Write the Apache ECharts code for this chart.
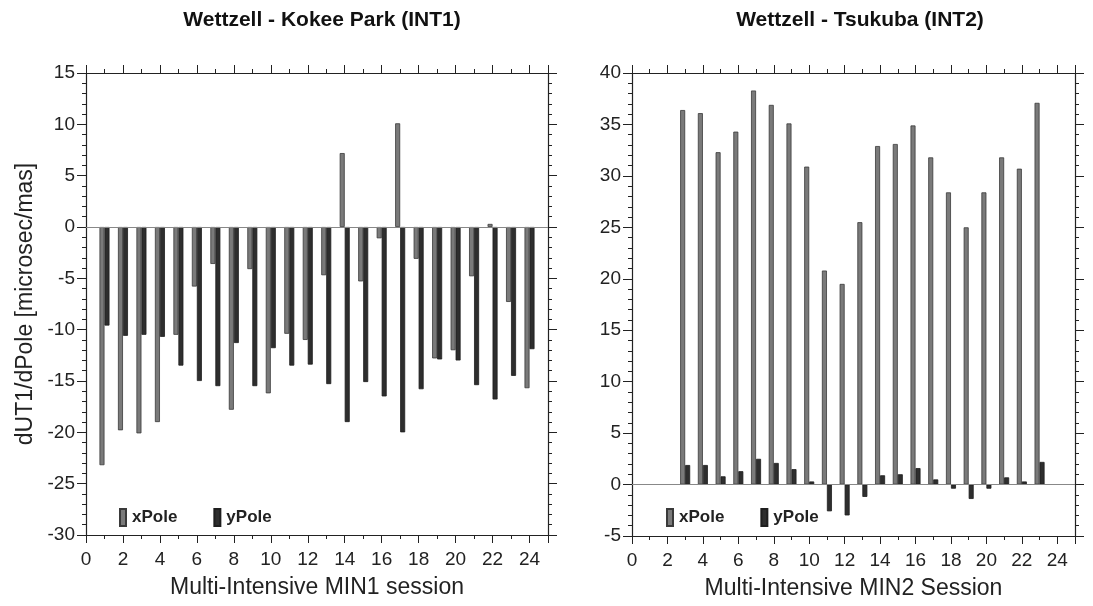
<!DOCTYPE html>
<html>
<head>
<meta charset="utf-8">
<script src="https://cdn.jsdelivr.net/npm/echarts@6/dist/echarts.min.js"></script>
<style>
html,body{margin:0;padding:0;background:#fff;}
#main{width:1093px;height:606px;}
</style>
</head>
<body>
<div id="main"></div>
<script>
// INT1 Wettzell - Kokee Park
var sessions1 = [1,2,3,4,5,6,7,8,9,10,11,12,13,14,15,16,17,18,19,20,21,22,23,24];
var xPole1 = [-23.2,-19.8,-20.1,-19.0,-10.5,-5.8,-3.6,-17.8,-4.1,-16.2,-10.4,-11.0,-4.7,7.2,-5.3,-1.1,10.1,-3.1,-12.8,-12.0,-4.8,0.3,-7.3,-15.7];
var yPole1 = [-9.6,-10.6,-10.5,-10.7,-13.5,-15.0,-15.5,-11.3,-15.5,-11.8,-13.5,-13.4,-15.3,-19.0,-15.1,-16.5,-20.0,-15.8,-12.9,-13.0,-15.4,-16.8,-14.5,-11.9];
// INT2 Wettzell - Tsukuba
var sessions2 = [3,4,5,6,7,8,9,10,11,12,13,14,15,16,17,18,19,20,21,22,23];
var xPole2 = [36.4,36.1,32.3,34.3,38.3,36.9,35.1,30.9,20.8,19.5,25.5,32.9,33.1,34.9,31.8,28.4,25.0,28.4,31.8,30.7,37.1];
var yPole2 = [1.9,1.9,0.8,1.3,2.5,2.1,1.5,0.3,-2.6,-3.0,-1.2,0.9,1.0,1.6,0.5,-0.4,-1.4,-0.4,0.7,0.3,2.2];
var xTicks = {min:0, max:25, interval:2};
var yRange1 = {min:-30, max:15, interval:5};
var yRange2 = {min:-5, max:40, interval:5};

var font = 'Liberation Sans, Arial, Helvetica, sans-serif';
var lineCol = '#222';
var lightCol = '#7a7a7a', darkCol = '#2e2e2e';

function pairs(xs, ys){
    var out = [];
    for (var i = 0; i < xs.length; i++) out.push([xs[i], ys[i]]);
    return out;
}

function xAx(grid, pos, name){
    return {
        type:'value', gridIndex:grid, position:pos,
        min:xTicks.min, max:xTicks.max, interval:xTicks.interval,
        name:name||'', nameLocation:'middle', nameGap:41,
        nameTextStyle:{fontFamily:font, fontSize:23, color:'#222'},
        axisLine:{show:true, onZero:false, lineStyle:{color:lineCol, width:1.2}},
        axisTick:{show:true, length:8, lineStyle:{color:lineCol}},
        minorTick:{show:true, splitNumber:2, length:4, lineStyle:{color:lineCol}},
        axisLabel:{show:pos==='bottom', margin:15, fontFamily:font, fontSize:19, color:'#222',
            formatter:function(v){ return v > 24 ? '' : v; }},
        splitLine:{show:false}
    };
}
function yAx(grid, pos, r, name){
    return {
        type:'value', gridIndex:grid, position:pos,
        min:r.min, max:r.max, interval:r.interval,
        name:name||'', nameLocation:'middle', nameGap:49, nameRotate:90,
        nameTextStyle:{fontFamily:font, fontSize:23, color:'#222'},
        axisLine:{show:true, onZero:false, lineStyle:{color:lineCol, width:1.2}},
        axisTick:{show:true, length:9, lineStyle:{color:lineCol}},
        minorTick:{show:true, splitNumber:5, length:4, lineStyle:{color:lineCol}},
        axisLabel:{show:pos==='left', margin:11, fontFamily:font, fontSize:19, color:'#222'},
        splitLine:{show:false}
    };
}
function barSeries(name, xi, yi, data, col, border, withZero){
    var s = {
        name:name, type:'bar', xAxisIndex:xi, yAxisIndex:yi,
        data:data, barWidth:5, barGap:'0%',
        itemStyle:{color:col, borderColor:border, borderWidth:0.8},
        animation:false
    };
    if (withZero) {
        s.markLine = {silent:true, symbol:'none', label:{show:false},
            lineStyle:{color:'#888', width:1, type:'solid'},
            data:[{yAxis:0}]};
    }
    return s;
}
function legendAt(left){
    return {
        left:left, top:503, itemWidth:6, itemHeight:17, itemGap:36, icon:'rect',
        textStyle:{fontFamily:font, fontSize:17, fontWeight:'bold', color:'#222', padding:[0,0,0,1]},
        data:['xPole','yPole'], selectedMode:false
    };
}

var option = {
    backgroundColor:'#fff',
    animation:false,
    title:[
        {text:'Wettzell - Kokee Park (INT1)', left:317, top:5, textAlign:'center',
         textStyle:{fontFamily:font, fontSize:21, fontWeight:'bold', color:'#111'}},
        {text:'Wettzell - Tsukuba (INT2)', left:855, top:5, textAlign:'center',
         textStyle:{fontFamily:font, fontSize:21, fontWeight:'bold', color:'#111'}}
    ],
    legend:[legendAt(114), legendAt(661)],
    grid:[
        {left:86, top:73, width:462, height:462},
        {left:632, top:73, width:443, height:463}
    ],
    xAxis:[
        xAx(0,'bottom','Multi-Intensive MIN1 session'), xAx(0,'top'),
        xAx(1,'bottom','Multi-Intensive MIN2 Session'), xAx(1,'top')
    ],
    yAxis:[
        yAx(0,'left',yRange1,'dUT1/dPole [microsec/mas]'), yAx(0,'right',yRange1),
        yAx(1,'left',yRange2), yAx(1,'right',yRange2)
    ],
    series:[
        barSeries('xPole',0,0,pairs(sessions1,xPole1),lightCol,'#3a3a3a',true),
        barSeries('yPole',0,0,pairs(sessions1,yPole1),darkCol,'#1e1e1e',false),
        barSeries('xPole',2,2,pairs(sessions2,xPole2),lightCol,'#3a3a3a',true),
        barSeries('yPole',2,2,pairs(sessions2,yPole2),darkCol,'#1e1e1e',false)
    ]
};

var chart = echarts.init(document.getElementById('main'), null, {renderer:'canvas'});
chart.setOption(option);
</script>
</body>
</html>
